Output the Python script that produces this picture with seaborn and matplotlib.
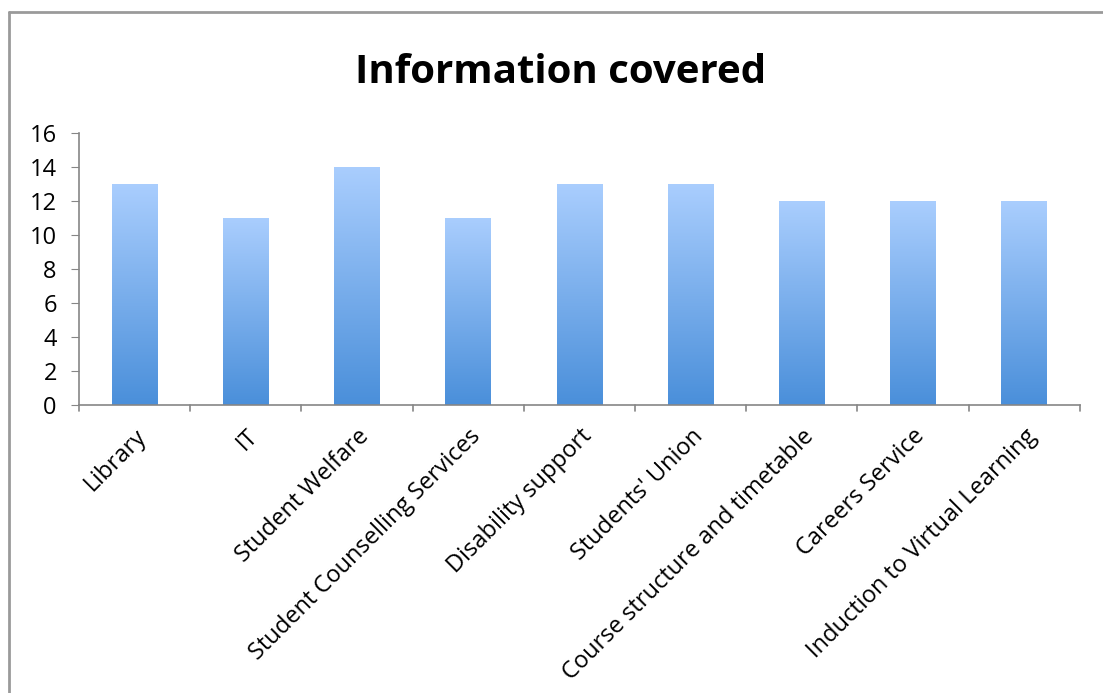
import numpy as np
import pandas as pd
import matplotlib
matplotlib.use('Agg')
import matplotlib.pyplot as plt
import seaborn as sns
from matplotlib.colors import LinearSegmentedColormap

# Data
categories = ['Library', 'IT', 'Student Welfare', 'Student Counselling Services',
              'Disability support', "Students' Union", 'Course structure and timetable',
              'Careers Service', 'Induction to Virtual Learning']
counts = [13, 11, 14, 11, 13, 13, 12, 12, 12]
yticks = [0, 2, 4, 6, 8, 10, 12, 14, 16]

df = pd.DataFrame({'category': categories, 'count': counts})

sns.set_style('white')
plt.rcParams['font.family'] = ['Open Sans', 'DejaVu Sans']
plt.rcParams['text.color'] = 'black'
plt.rcParams['xtick.labelcolor'] = 'black'
plt.rcParams['ytick.labelcolor'] = 'black'

fig = plt.figure(figsize=(11.03, 6.93), dpi=100)
ax = fig.add_axes([0.0716, 0.4156, 0.9074, 0.3925])

sns.barplot(data=df, x='category', y='count', ax=ax, width=0.41,
            color='#7FB2F0', edgecolor='none', saturation=1)

# vertical gradient fill inside each bar
grad_cmap = LinearSegmentedColormap.from_list('bar_grad', ['#4A8FDA', '#AACEFE'])
grad = np.linspace(0, 1, 256).reshape(-1, 1)
for patch in ax.patches:
    x0, y0 = patch.get_x(), patch.get_y()
    w, h = patch.get_width(), patch.get_height()
    im = ax.imshow(grad, cmap=grad_cmap, aspect='auto', origin='lower',
                   extent=[x0, x0 + w, y0, y0 + h], zorder=patch.get_zorder() + 0.1)
    im.set_clip_path(patch)

ax.set_xlim(-0.5, len(categories) - 0.5)
ax.set_ylim(0, 16)
ax.set_yticks(yticks)
ax.set_xticks(np.arange(len(categories)))
ax.set_xticklabels(categories, rotation=45, ha='right', rotation_mode='anchor', fontsize=17)
ax.tick_params(axis='x', length=0, pad=14, labelcolor='black')
ax.tick_params(axis='y', labelsize=17, length=6, color='#868686', direction='out',
               left=True, pad=10, labelcolor='black')

# boundary ticks on the category axis
for b in np.arange(-0.5, len(categories), 1.0):
    ax.plot([b, b], [0, -0.022], transform=ax.get_xaxis_transform(), color='#868686',
            lw=1.2, clip_on=False)

ax.set_xlabel('')
ax.set_ylabel('')
for side in ['top', 'right']:
    ax.spines[side].set_visible(False)
for side in ['left', 'bottom']:
    ax.spines[side].set_color('#868686')
    ax.spines[side].set_linewidth(1.2)

fig.text(0.508, 0.896, 'Information covered', ha='center', va='center',
         fontsize=29, fontweight='bold', color='black')

# chart frame on the left and top
fig.add_artist(plt.Line2D([0.0085, 0.0085], [0, 0.983], color='#9A9A9A', lw=2))
fig.add_artist(plt.Line2D([0.0085, 1], [0.983, 0.983], color='#9A9A9A', lw=2))

fig.savefig('out.png', dpi=100)
